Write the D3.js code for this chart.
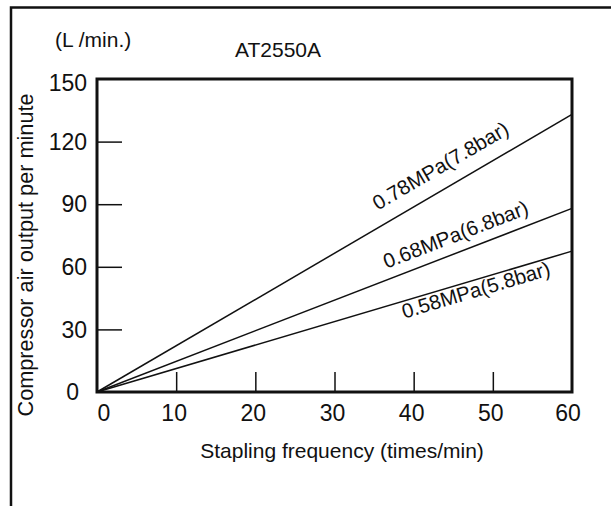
<!DOCTYPE html>
<html>
<head>
<meta charset="utf-8">
<script src="https://cdn.jsdelivr.net/npm/d3@7"></script>
<style>
  html, body { margin: 0; padding: 0; background: #fff; }
  svg { display: block; }
  text { font-family: "Liberation Sans", Arial, sans-serif; fill: #111; }
</style>
</head>
<body>
<svg id="chart" width="611" height="506"></svg>
<script>
// ---- data ----
const seriesNames = ["0.78MPa(7.8bar)", "0.68MPa(6.8bar)", "0.58MPa(5.8bar)"];
const seriesX = [0, 60];
const seriesY78 = [0, 133];
const seriesY68 = [0, 88];
const seriesY58 = [0, 67.5];
const labelAtX = [44.8, 46.1, 47.5];
const labelSide = [1, 1, -1]; // 1 = above line, -1 = below
const xTicks = [0, 10, 20, 30, 40, 50, 60];
const yTicks = [0, 30, 60, 90, 120, 150];
const titleText = "AT2550A";
const unitText = "(L /min.)";
const xLabel = "Stapling frequency (times/min)";
const yLabel = "Compressor air output per minute";

const svg = d3.select("#chart");

// outer frame (clipped at right & bottom)
svg.append("rect").attr("x", 11).attr("y", 7.5).attr("width", 700).attr("height", 600)
  .attr("fill", "none").attr("stroke", "#111").attr("stroke-width", 2.5);

const pLeft = 97, pRight = 572, pTop = 79, pBottom = 392;
const x = d3.scaleLinear().domain([0, 60]).range([pLeft, pRight]);
const y = d3.scaleLinear().domain([0, 150]).range([pBottom, pTop]);

// ticks (inside)
const xAxis = d3.axisTop(x).tickValues(xTicks.slice(1, -1)).tickSize(20).tickFormat("");
svg.append("g").attr("transform", `translate(0,${pBottom})`).call(xAxis)
  .call(g => g.select(".domain").remove())
  .call(g => g.selectAll("line").attr("stroke", "#111").attr("stroke-width", 1.5));
const yAxis = d3.axisRight(y).tickValues(yTicks.slice(1, -1)).tickSize(25).tickFormat("");
svg.append("g").attr("transform", `translate(${pLeft},0)`).call(yAxis)
  .call(g => g.select(".domain").remove())
  .call(g => g.selectAll("line").attr("stroke", "#111").attr("stroke-width", 1.5));

// tick labels
svg.append("g").selectAll("text").data(xTicks).join("text")
  .attr("x", d => x(d) + (d === 0 ? 7 : (d === 60 ? -4 : -2)))
  .attr("y", 421).attr("text-anchor", "middle").attr("font-size", 23).text(d => d);
svg.append("g").selectAll("text").data(yTicks).join("text")
  .attr("x", d => d === 0 ? 79 : 87)
  .attr("y", d => y(d) + (d === 150 ? 4 : 0)).attr("dy", "0.36em")
  .attr("text-anchor", "end").attr("font-size", 23).text(d => d);

// lines
const seriesYs = [seriesY78, seriesY68, seriesY58];
const line = d3.line().x(d => x(d[0])).y(d => y(d[1]));
const labelOffset = [-15, -10.5, 17];
seriesYs.forEach((ys, i) => {
  const pts = seriesX.map((xv, j) => [xv, ys[j]]);
  svg.append("path").datum(pts).attr("d", line)
    .attr("fill", "none").attr("stroke", "#111").attr("stroke-width", 1.5);
  const slope = (ys[1] - ys[0]) / (seriesX[1] - seriesX[0]);
  const lx = labelAtX[i], ly = ys[0] + slope * lx;
  const px = x(lx), py = y(ly);
  const ang = Math.atan2(y(ys[1]) - y(ys[0]), x(seriesX[1]) - x(seriesX[0])) * 180 / Math.PI;
  svg.append("text")
    .attr("transform", `translate(${px},${py}) rotate(${ang})`)
    .attr("text-anchor", "middle")
    .attr("y", labelOffset[i])
    .attr("font-size", 20.5).text(seriesNames[i]);
});

// plot frame
svg.append("rect").attr("x", pLeft).attr("y", pTop).attr("width", pRight - pLeft).attr("height", pBottom - pTop)
  .attr("fill", "none").attr("stroke", "#111").attr("stroke-width", 3);

// texts
svg.append("text").attr("x", 235).attr("y", 57).attr("font-size", 21).text(titleText);
svg.append("text").attr("x", 55).attr("y", 47).attr("font-size", 21).text(unitText);
svg.append("text").attr("x", 342).attr("y", 458).attr("text-anchor", "middle").attr("font-size", 21).text(xLabel);
svg.append("text").attr("transform", "translate(33,255) rotate(-90)")
  .attr("text-anchor", "middle").attr("font-size", 21.7).text(yLabel);
</script>
</body>
</html>
